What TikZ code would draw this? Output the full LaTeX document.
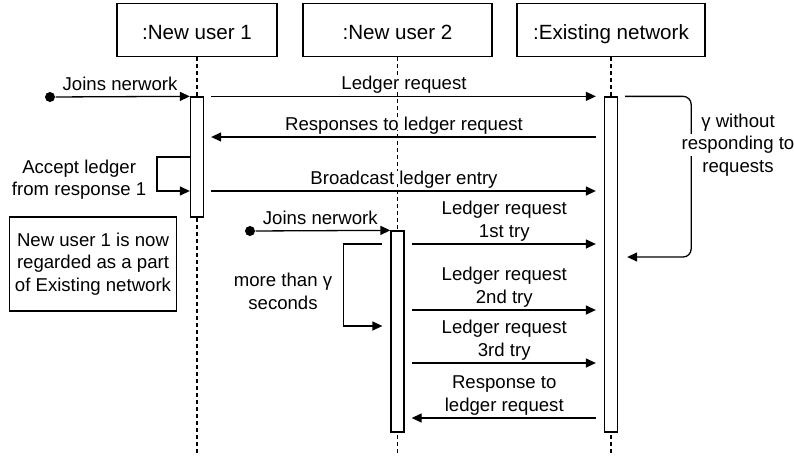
\documentclass[tikz,border=0pt]{standalone}
\usepackage{fontspec}
\setmainfont{Liberation Sans}
\usetikzlibrary{arrows.meta}

\begin{document}
\begin{tikzpicture}[
          x = 1pt, y = -1pt,
 line width = 1.3pt,
every node/.style = {inner sep=0pt, font=\fontsize{18.6}{22.5}\selectfont},
       head/.style = {rectangle, draw, minimum height=53pt,
                      text height=19.4pt, text depth=0pt,
                      font=\fontsize{20.6}{25}\selectfont},
        act/.style = {rectangle, draw, fill=white, minimum width=13pt},
       life/.style = {line width=1.1pt, dash pattern=on 4pt off 3pt},
        msg/.style = {-{Triangle[length=10pt,width=9pt]}},
         go/.style = {msg, shorten <=7pt, shorten >=8pt},% left to right
       back/.style = {msg, shorten <=8pt, shorten >=7pt},% right to left
        dot/.style = {circle, fill, minimum size=10pt},
        lbl/.style = {anchor=south, align=center, text depth=0pt,
                      fill=white, yshift=6pt},
       note/.style = {rectangle, draw, align=center,
                      minimum width=167pt, minimum height=94pt}
                        ]
\useasboundingbox (0,0) rectangle (794,458);
% heads of the lifelines
\node[head, minimum width=160pt] (u1) at (197,30)   {:New user 1};
\node[head, minimum width=189pt] (u2) at (397.5,30) {:New user 2};
\node[head, minimum width=188pt] (ex) at (611,30)   {:Existing network};
\coordinate (u1end) at (197,455);
\coordinate (u2end) at (397.5,455);
\coordinate (exend) at (611,455);
% rows of the messages
\coordinate (resp)  at (0,137);
\coordinate (acc)   at (0,157);
\coordinate (bcast) at (0,191);
\coordinate (try1)  at (0,244);
\coordinate (wait)  at (0,326);
\coordinate (try2)  at (0,310);
\coordinate (try3)  at (0,363);
\coordinate (ans)   at (0,418);
\coordinate (gam)   at (0,257);
% lifelines
\draw[life] (u1.south) -- (u1end);
\draw[life] (u2.south) -- (u2end);
\draw[life] (ex.south) -- (exend);
% activations
\node[act, minimum height=120pt] (a1) at (197,157)   {};
\node[act, minimum height=201pt] (a2) at (397.5,331.5) {};
\node[act, minimum height=335pt] (a3) at (611,264.5) {};
% new user 1
\node[dot] (d1) at (50,97) {};
\draw[msg] (d1) -- (a1.north west) node[pos=0.48, lbl] {Joins nerwork};
\draw[go] (a1.north east) -- (a3.north west)
    node[midway, lbl] {Ledger request};
\draw[back] (a3.west |- resp) -- (a1.east |- resp)
    node[midway, lbl] {Responses to ledger request};
\draw[msg] (a1.west |- acc) -- ++(-33,0) |- (a1.west |- bcast);
\node[align=center, anchor=south east, text depth=0pt] (acclbl)
    at (147,196.5) {Accept ledger\\from response 1};
\draw[go] (a1.east |- bcast) -- (a3.west |- bcast)
    node[midway, lbl] {Broadcast ledger entry};
\node[note] (nb) at (93,264)
    {New user 1 is now\\regarded as a part\\of Existing network};
% new user 2
\node[dot] (d2) at (250,231) {};
\draw[msg] (d2) -- (a2.north west) node[pos=0.48, lbl] {Joins nerwork};
\draw[msg, shorten <=8pt, shorten >=8pt] (a2.west |- try1) -- ++(-47,0)
    |- (a2.west |- wait);
\node[align=center, anchor=south, text depth=0pt] (waitlbl)
    at (283,310) {more than γ\\seconds};
\draw[go] (a2.east |- try1) -- (a3.west |- try1)
    node[midway, lbl] {Ledger request\\1st try};
\draw[go] (a2.east |- try2) -- (a3.west |- try2)
    node[midway, lbl] {Ledger request\\2nd try};
\draw[go] (a2.east |- try3) -- (a3.west |- try3)
    node[midway, lbl] {Ledger request\\3rd try};
\draw[back] (a3.west |- ans) -- (a2.east |- ans)
    node[midway, lbl] {Response to\\ledger request};
% existing network keeps silent
\draw[msg, rounded corners=8pt, shorten <=7pt, shorten >=9pt]
    (a3.north east) -- ++(73,0) |- (a3.east |- gam);
\node[align=center, anchor=south, text depth=0pt] (gamlbl) at (738,173)
    {γ without\\{\fboxsep=2pt\colorbox{white}{responding to}}\\requests};
\end{tikzpicture}
\end{document}
